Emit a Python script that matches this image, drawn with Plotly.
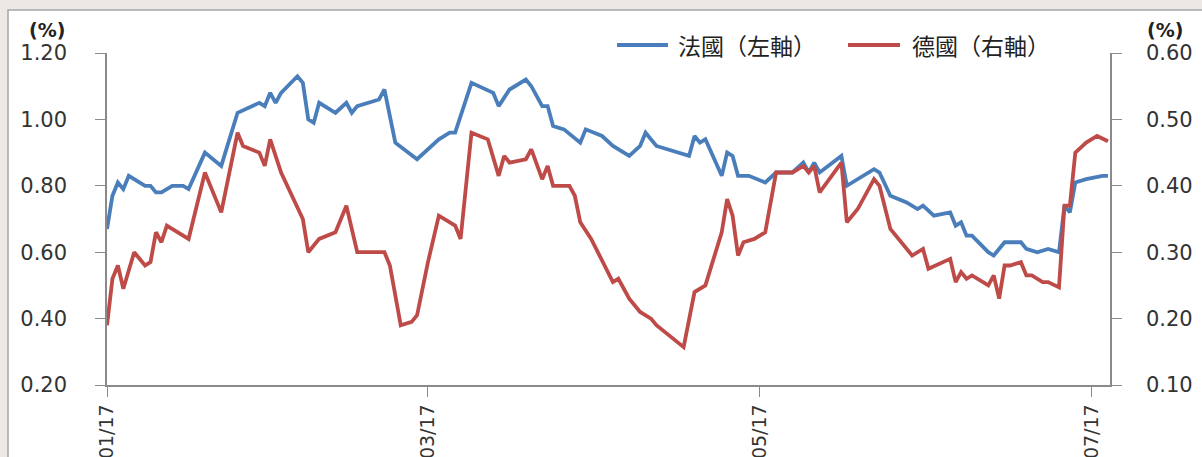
import plotly.graph_objects as go

# 10-year government bond yields, France (left axis) and Germany (right axis), 2017
fr_dates = [
    "2017-01-17", "2017-01-18", "2017-01-19", "2017-01-20", "2017-01-21", "2017-01-24",
    "2017-01-25", "2017-01-26", "2017-01-27", "2017-01-29", "2017-01-31", "2017-02-01",
    "2017-02-04", "2017-02-07", "2017-02-10", "2017-02-14", "2017-02-15", "2017-02-16",
    "2017-02-17", "2017-02-18", "2017-02-21", "2017-02-22", "2017-02-23", "2017-02-24",
    "2017-02-25", "2017-02-28", "2017-03-02", "2017-03-03", "2017-03-04", "2017-03-08",
    "2017-03-09", "2017-03-10", "2017-03-11", "2017-03-15", "2017-03-17", "2017-03-19",
    "2017-03-21", "2017-03-22", "2017-03-25", "2017-03-29", "2017-03-30", "2017-04-01",
    "2017-04-04", "2017-04-05", "2017-04-07", "2017-04-08", "2017-04-09", "2017-04-11",
    "2017-04-14", "2017-04-15", "2017-04-18", "2017-04-20", "2017-04-23", "2017-04-25",
    "2017-04-26", "2017-04-28", "2017-05-04", "2017-05-05", "2017-05-06", "2017-05-07",
    "2017-05-10", "2017-05-11", "2017-05-12", "2017-05-13", "2017-05-15", "2017-05-18",
    "2017-05-20", "2017-05-23", "2017-05-25", "2017-05-26", "2017-05-27", "2017-05-28",
    "2017-06-01", "2017-06-02", "2017-06-07", "2017-06-08", "2017-06-10", "2017-06-13",
    "2017-06-15", "2017-06-16", "2017-06-18", "2017-06-21", "2017-06-22", "2017-06-23",
    "2017-06-24", "2017-06-25", "2017-06-28", "2017-06-29", "2017-07-01", "2017-07-04",
    "2017-07-05", "2017-07-07", "2017-07-09", "2017-07-11", "2017-07-12", "2017-07-13",
    "2017-07-14", "2017-07-16", "2017-07-19", "2017-07-20",
]
fr_yield = [
    0.67, 0.77, 0.81, 0.79, 0.83, 0.80,
    0.80, 0.78, 0.78, 0.80, 0.80, 0.79,
    0.90, 0.86, 1.02, 1.05, 1.04, 1.08,
    1.05, 1.08, 1.13, 1.11, 1.00, 0.99,
    1.05, 1.02, 1.05, 1.02, 1.04, 1.06,
    1.09, 1.01, 0.93, 0.88, 0.91, 0.94,
    0.96, 0.96, 1.11, 1.08, 1.04, 1.09,
    1.12, 1.10, 1.04, 1.04, 0.98, 0.97,
    0.93, 0.97, 0.95, 0.92, 0.89, 0.92,
    0.96, 0.92, 0.89, 0.95, 0.93, 0.94,
    0.83, 0.90, 0.89, 0.83, 0.83, 0.81,
    0.84, 0.84, 0.87, 0.84, 0.87, 0.84,
    0.89, 0.80, 0.85, 0.84, 0.77, 0.75,
    0.73, 0.74, 0.71, 0.72, 0.68, 0.69,
    0.65, 0.65, 0.60, 0.59, 0.63, 0.63,
    0.61, 0.60, 0.61, 0.60, 0.74, 0.72,
    0.81, 0.82, 0.83, 0.83,
]

de_dates = [
    "2017-01-17", "2017-01-18", "2017-01-19", "2017-01-20", "2017-01-22", "2017-01-24",
    "2017-01-25", "2017-01-26", "2017-01-27", "2017-01-28", "2017-02-01", "2017-02-04",
    "2017-02-07", "2017-02-10", "2017-02-11", "2017-02-14", "2017-02-15", "2017-02-16",
    "2017-02-18", "2017-02-22", "2017-02-23", "2017-02-25", "2017-02-28", "2017-03-01",
    "2017-03-02", "2017-03-04", "2017-03-07", "2017-03-09", "2017-03-10", "2017-03-12",
    "2017-03-14", "2017-03-15", "2017-03-17", "2017-03-19", "2017-03-22", "2017-03-23",
    "2017-03-25", "2017-03-28", "2017-03-30", "2017-03-31", "2017-04-01", "2017-04-04",
    "2017-04-05", "2017-04-07", "2017-04-08", "2017-04-09", "2017-04-12", "2017-04-13",
    "2017-04-14", "2017-04-16", "2017-04-20", "2017-04-21", "2017-04-23", "2017-04-25",
    "2017-04-27", "2017-04-28", "2017-05-03", "2017-05-05", "2017-05-07", "2017-05-10",
    "2017-05-11", "2017-05-12", "2017-05-13", "2017-05-14", "2017-05-16", "2017-05-18",
    "2017-05-20", "2017-05-23", "2017-05-25", "2017-05-26", "2017-05-27", "2017-05-28",
    "2017-06-01", "2017-06-02", "2017-06-04", "2017-06-07", "2017-06-08", "2017-06-10",
    "2017-06-14", "2017-06-16", "2017-06-17", "2017-06-21", "2017-06-22", "2017-06-23",
    "2017-06-24", "2017-06-25", "2017-06-28", "2017-06-29", "2017-06-30", "2017-07-01",
    "2017-07-02", "2017-07-04", "2017-07-05", "2017-07-06", "2017-07-08", "2017-07-09",
    "2017-07-11", "2017-07-12", "2017-07-13", "2017-07-14", "2017-07-16", "2017-07-18",
    "2017-07-20",
]
de_yield = [
    0.19, 0.26, 0.28, 0.245, 0.30, 0.28,
    0.285, 0.33, 0.315, 0.34, 0.32, 0.42,
    0.36, 0.48, 0.46, 0.45, 0.43, 0.47,
    0.42, 0.35, 0.30, 0.32, 0.33, 0.35,
    0.37, 0.30, 0.30, 0.30, 0.28, 0.19,
    0.195, 0.205, 0.285, 0.355, 0.34, 0.32,
    0.48, 0.47, 0.415, 0.445, 0.435, 0.44,
    0.455, 0.41, 0.43, 0.40, 0.40, 0.385,
    0.345, 0.32, 0.255, 0.26, 0.23, 0.21,
    0.20, 0.19, 0.157, 0.24, 0.25, 0.33,
    0.38, 0.355, 0.295, 0.315, 0.32, 0.33,
    0.42, 0.42, 0.43, 0.42, 0.43, 0.39,
    0.435, 0.345, 0.365, 0.41, 0.40, 0.335,
    0.295, 0.305, 0.275, 0.29, 0.255, 0.27,
    0.26, 0.265, 0.25, 0.265, 0.23, 0.28,
    0.28, 0.285, 0.265, 0.265, 0.255, 0.255,
    0.247, 0.37, 0.37, 0.45, 0.465, 0.475,
    0.467,
]

x_ticks = ["2017-01-17", "2017-03-17", "2017-05-17", "2017-07-17"]
left_ticks = [0.20, 0.40, 0.60, 0.80, 1.00, 1.20]
right_ticks = [0.10, 0.20, 0.30, 0.40, 0.50, 0.60]

fr_name = "法國（左軸）"
de_name = "德國（右軸）"
fr_color = "#4a7ebb"
de_color = "#be4b48"
axis_color = "#8a8a8a"
text_color = "#333333"
tick_font = dict(family="DejaVu Sans", size=21, color=text_color)
date_font = dict(family="DejaVu Sans", size=19, color=text_color)
cjk_font = dict(family="Noto Sans CJK TC", size=23, color="#222222")

fig = go.Figure()
fig.add_trace(go.Scatter(x=fr_dates, y=fr_yield, name=fr_name, mode="lines",
                         line=dict(color=fr_color, width=3.8), yaxis="y"))
fig.add_trace(go.Scatter(x=de_dates, y=de_yield, name=de_name, mode="lines",
                         line=dict(color=de_color, width=3.8), yaxis="y2"))

fig.update_layout(
    width=1202, height=457,
    margin=dict(l=107, r=92, t=53, b=72, autoexpand=False),
    paper_bgcolor="#ece8e5",
    plot_bgcolor="rgba(0,0,0,0)",
    showlegend=False,
    xaxis=dict(
        type="date", automargin=False,
        range=["2017-01-17", "2017-07-20 09:00"],
        tickvals=x_ticks, tickformat="%m/%d", tickangle=-90,
        ticks="outside", ticklen=10, tickwidth=1.3, tickcolor=axis_color,
        showline=True, linecolor=axis_color, linewidth=1.5,
        showgrid=False, zeroline=False, tickfont=date_font,
        ticklabelstandoff=0,
    ),
    yaxis=dict(
        automargin=False,
        range=[0.2, 1.2], tickvals=left_ticks, tickformat=".2f",
        ticks="outside", ticklen=10, tickwidth=1.3, tickcolor=axis_color,
        showline=True, linecolor=axis_color, linewidth=1.5,
        showgrid=False, zeroline=False, tickfont=tick_font,
        ticklabelstandoff=24,
    ),
    yaxis2=dict(
        automargin=False,
        range=[0.1, 0.6], tickvals=right_ticks, tickformat=".2f",
        overlaying="y", side="right",
        ticks="outside", ticklen=10, tickwidth=1.3, tickcolor=axis_color,
        showline=True, linecolor=axis_color, linewidth=1.5,
        showgrid=False, zeroline=False, tickfont=tick_font,
        ticklabelstandoff=20,
    ),
)

# white chart panel with a thin grey frame
fig.add_shape(type="rect", xref="paper", yref="paper",
              x0=-0.0987, x1=1.12, y0=-0.3, y1=1.1295,
              fillcolor="white", line=dict(color="#a6a6a6", width=1.5),
              layer="below")

# unit labels above both value axes
fig.add_annotation(text="<b>(%)</b>", xref="paper", yref="paper", x=-0.0598, y=1.069,
                   showarrow=False, font=dict(family="DejaVu Sans", size=19, color="#222222"),
                   xanchor="center", yanchor="middle")
fig.add_annotation(text="<b>(%)</b>", xref="paper", yref="paper", x=1.0548, y=1.069,
                   showarrow=False, font=dict(family="DejaVu Sans", size=19, color="#222222"),
                   xanchor="center", yanchor="middle")

# legend keys drawn along the top edge
legend_y = 1.0241
for x0, x1, tx, color, label in [
    (0.5085, 0.5593, 0.5673, fr_color, fr_name),
    (0.7388, 0.7906, 0.8006, de_color, de_name),
]:
    fig.add_shape(type="line", xref="paper", yref="paper", x0=x0, x1=x1,
                  y0=legend_y, y1=legend_y, line=dict(color=color, width=3.8))
    fig.add_annotation(text=label, xref="paper", yref="paper", x=tx, y=legend_y,
                       showarrow=False, font=cjk_font, xanchor="left", yanchor="middle")

fig.write_html("out.html")
